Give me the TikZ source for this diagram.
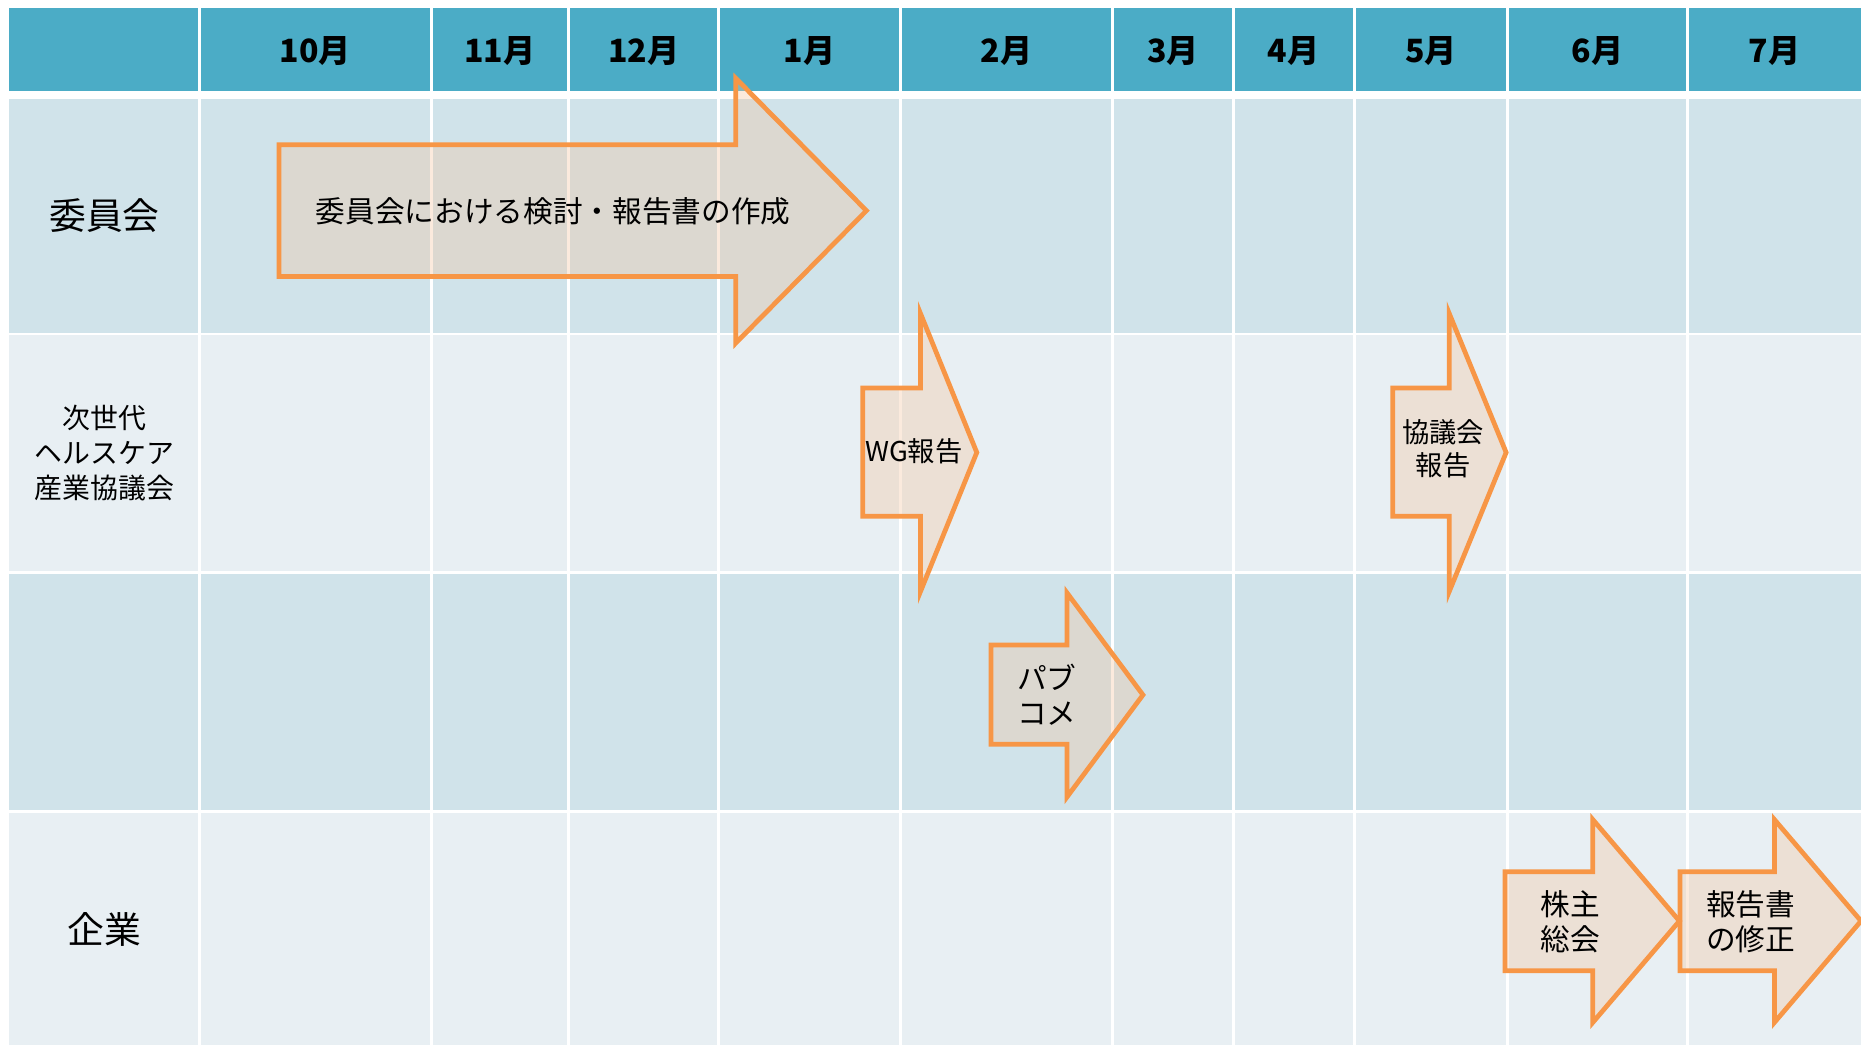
\documentclass[tikz,border=0pt]{standalone}
\usepackage{fontspec}
\newfontfamily\jp{Noto Sans CJK JP}
\definecolor{hdr}{HTML}{4BACC6}
\definecolor{bandA}{HTML}{D0E3EA}
\definecolor{bandB}{HTML}{E8EFF3}
\definecolor{arrline}{HTML}{F79646}
\definecolor{arrfill}{RGB}{244,198,162}
\tikzset{
  bigarrow/.style={draw=arrline, line width=4pt, fill=arrfill, fill opacity=0.36, line join=miter},
  mon/.style={font=\jp\bfseries\fontsize{27}{30}\selectfont, inner sep=0pt},
  rowlab/.style={font=\jp\fontsize{31}{36}\selectfont, align=center, inner sep=0pt},
  rowlabsm/.style={font=\jp\fontsize{23.5}{29.5}\selectfont, align=center, inner sep=0pt},
  arrtxt/.style={font=\jp\fontsize{25}{29.5}\selectfont, align=center, inner sep=0pt},
  arrtxtsm/.style={font=\jp\fontsize{23}{28.5}\selectfont, align=center, inner sep=0pt},
  sep/.style={white, line width=2.4pt}
}
\begin{document}
\begin{tikzpicture}[x=1pt,y=-1pt]
\useasboundingbox (0,0) rectangle (1568,880);
\begin{scope}
\clip (0,0) rectangle (1568,880);
\fill[white] (0,0) rectangle (1568,880);
% table bands
\fill[hdr]   (8,7)     rectangle (1570,77);
\fill[bandA] (8,83.4)  rectangle (1570,280.6);
\fill[bandB] (8,282.5) rectangle (1570,481);
\fill[bandA] (8,483.7) rectangle (1570,682.5);
\fill[bandB] (8,685)   rectangle (1570,882);
\foreach \x in {168,363.5,479,605.5,759,937.5,1039,1141,1270,1422}
  \draw[sep] (\x,0) -- (\x,882);
% header labels
\node[mon] (m10) at (265.75,43) {10月};
\node[mon] (m11) at (421.25,43) {11月};
\node[mon] (m12) at (542.25,43) {12月};
\node[mon] (m1)  at (682.25,43) {1月};
\node[mon] (m2)  at (848.25,43) {2月};
\node[mon] (m3)  at (988.25,43) {3月};
\node[mon] (m4)  at (1090,43)   {4月};
\node[mon] (m5)  at (1205.5,43) {5月};
\node[mon] (m6)  at (1346,43)   {6月};
\node[mon] (m7)  at (1495,43)   {7月};
% row labels
\node[rowlab]   (r1) at (88,182)   {委員会};
\node[rowlabsm] (r2) at (88,381.5) {次世代\\ヘルスケア\\産業協議会};
\node[rowlab]   (r4) at (88,783)   {企業};
% arrows
\path[bigarrow] (235,122) -- (620,122) -- (620,66) -- (730,177.5) -- (620,289) -- (620,233) -- (235,233) -- cycle;
\path[bigarrow] (727,327) -- (775.5,327) -- (775.5,264) -- (823,381.25) -- (775.5,498.5) -- (775.5,435) -- (727,435) -- cycle;
\path[bigarrow] (1173.5,327) -- (1221,327) -- (1221,264) -- (1269,381.25) -- (1221,498.5) -- (1221,435) -- (1173.5,435) -- cycle;
\path[bigarrow] (835,543.5) -- (899,543.5) -- (899,499.5) -- (963,585.5) -- (899,671.5) -- (899,627) -- (835,627) -- cycle;
\path[bigarrow] (1268,734.5) -- (1342,734.5) -- (1342,690.5) -- (1415,776) -- (1342,861.5) -- (1342,818) -- (1268,818) -- cycle;
\path[bigarrow] (1415.5,734.5) -- (1495,734.5) -- (1495,690.5) -- (1568,776) -- (1495,861.5) -- (1495,818) -- (1415.5,818) -- cycle;
% arrow texts
\node[arrtxt]   (a1) at (466,178)   {委員会における検討・報告書の作成};
\node[arrtxtsm] (a2) at (770,380)   {WG報告};
\node[arrtxtsm] (a3) at (1216,378)  {協議会\\報告};
\node[arrtxt]   (a4) at (882,585)   {パブ\\コメ};
\node[arrtxt]   (a5) at (1323,776.5) {株主\\総会};
\node[arrtxt]   (a6) at (1475,776.5) {報告書\\の修正};
\end{scope}
\end{tikzpicture}
\end{document}
